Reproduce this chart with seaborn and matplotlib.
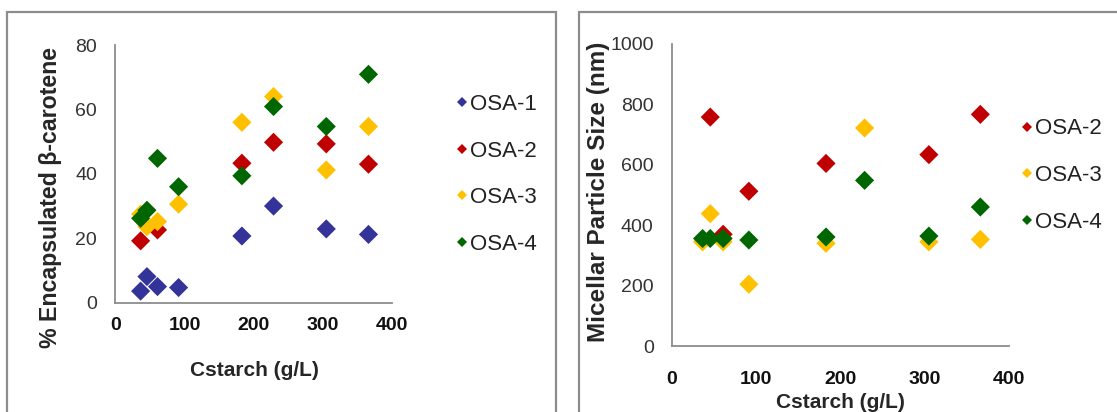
import matplotlib
matplotlib.use('Agg')
import matplotlib.pyplot as plt
from matplotlib.lines import Line2D
from matplotlib.patches import Rectangle
import seaborn as sns
import numpy as np
import pandas as pd

# starch concentrations (g/L)
cstarch = [36.6, 45.75, 61, 91.5, 183, 228.75, 305, 366]

# % encapsulated beta-carotene (NaN = hidden behind other markers)
enc_osa1 = [3.6, 8.1, 5.0, 4.7, 20.7, 30.0, 22.9, 21.2]
enc_osa2 = [19.2, np.nan, 22.6, np.nan, 43.3, 49.8, 49.3, 43.0]
enc_osa3 = [27.5, 23.6, 25.2, 30.6, 56.0, 64.0, 41.2, 54.7]
enc_osa4 = [26.2, 28.7, 44.8, 36.0, 39.4, 60.9, 54.7, 70.9]

# micellar particle size (nm)
size_osa2 = [np.nan, 757, 370, 512, 604, np.nan, 633, 766]
size_osa3 = [345, 438, 345, 205, 340, 721, 345, 353]
size_osa4 = [356, 356, 356, 351, 361, 548, 364, 460]

colors = {'OSA-1': '#333399', 'OSA-2': '#C00000',
          'OSA-3': '#FFC000', 'OSA-4': '#006600'}


def to_long(series):
    frames = []
    for name, vals in series:
        frames.append(pd.DataFrame({'Cstarch': cstarch, 'value': vals, 'series': name}))
    return pd.concat(frames, ignore_index=True).dropna()


def style_axes(ax, ymax, ystep, xpad):
    ax.set_xlim(0, 400)
    ax.set_ylim(0, ymax)
    ax.set_xticks(range(0, 401, 100))
    ax.set_yticks(range(0, ymax + 1, ystep))
    for s in ['top', 'right']:
        ax.spines[s].set_visible(False)
    for s in ['left', 'bottom']:
        ax.spines[s].set_color('#8c8c8c')
        ax.spines[s].set_linewidth(1.3)
    ax.tick_params(axis='both', length=0)
    ax.tick_params(axis='y', pad=13, labelsize=14, labelcolor='#333333')
    ax.tick_params(axis='x', pad=xpad, labelsize=14, labelcolor='#111111')
    for lab in ax.get_xticklabels():
        lab.set_fontweight('bold')
    ax.set_xlabel('')
    ax.set_ylabel('')


def add_legend(ax, names, x, y):
    handles = [Line2D([], [], marker='D', ls='', color=colors[n], markersize=5,
                      markeredgewidth=0) for n in names]
    ax.legend(handles, names, loc='center left', bbox_to_anchor=(x, y),
              bbox_transform=fig.transFigure, frameon=False, fontsize=16,
              handlelength=0.5, handletextpad=0.15, labelspacing=1.15,
              borderpad=0, borderaxespad=0, labelcolor='#222222')


sns.set_style('white')
plt.rcParams['font.family'] = ['Liberation Sans', 'DejaVu Sans']

W, H = 1117, 412
fig = plt.figure(figsize=(W / 100, H / 100), dpi=100)

# chart frames
fig.patches.append(Rectangle((7 / W, -0.1), (556 - 7) / W, 1.1 - 12 / H, transform=fig.transFigure,
                             fill=False, edgecolor='#8c8c8c', linewidth=1.6))
fig.patches.append(Rectangle((579 / W, -0.1), 0.5, 1.1 - 12 / H, transform=fig.transFigure,
                             fill=False, edgecolor='#8c8c8c', linewidth=1.6))

# left panel: encapsulation
ax1 = fig.add_axes([115.3 / W, (H - 302.7) / H, (392 - 115.3) / W, (302.7 - 45) / H])
df1 = to_long([('OSA-1', enc_osa1), ('OSA-2', enc_osa2), ('OSA-3', enc_osa3), ('OSA-4', enc_osa4)])
sns.scatterplot(data=df1, x='Cstarch', y='value', hue='series', palette=colors,
                marker='D', s=95, linewidth=0, legend=False, ax=ax1, clip_on=False)
style_axes(ax1, 80, 20, 10)
add_legend(ax1, ['OSA-1', 'OSA-2', 'OSA-3', 'OSA-4'], 456 / W, 1 - 174.5 / H)
fig.text(254 / W, 1 - 370 / H, 'Cstarch (g/L)', ha='center', va='center',
         fontsize=15, fontweight='bold')
fig.text(51 / W, 1 - 197.5 / H, '% Encapsulated β-carotene', ha='center', va='center',
         rotation=90, fontsize=16.7, fontweight='bold')

# right panel: particle size
ax2 = fig.add_axes([671.7 / W, (H - 346.3) / H, (1009 - 671.7) / W, (346.3 - 43.5) / H])
df2 = to_long([('OSA-2', size_osa2), ('OSA-3', size_osa3), ('OSA-4', size_osa4)])
sns.scatterplot(data=df2, x='Cstarch', y='value', hue='series', palette=colors,
                marker='D', s=95, linewidth=0, legend=False, ax=ax2, clip_on=False)
style_axes(ax2, 1000, 200, 18)
add_legend(ax2, ['OSA-2', 'OSA-3', 'OSA-4'], 1021 / W, 1 - 175.5 / H)
fig.text(840 / W, 1 - 403 / H, 'Cstarch (g/L)', ha='center', va='center',
         fontsize=15, fontweight='bold')
fig.text(598 / W, 1 - 191.5 / H, 'Micellar Particle Size (nm)', ha='center', va='center',
         rotation=90, fontsize=17.5, fontweight='bold')

fig.savefig('out.png', dpi=100)
